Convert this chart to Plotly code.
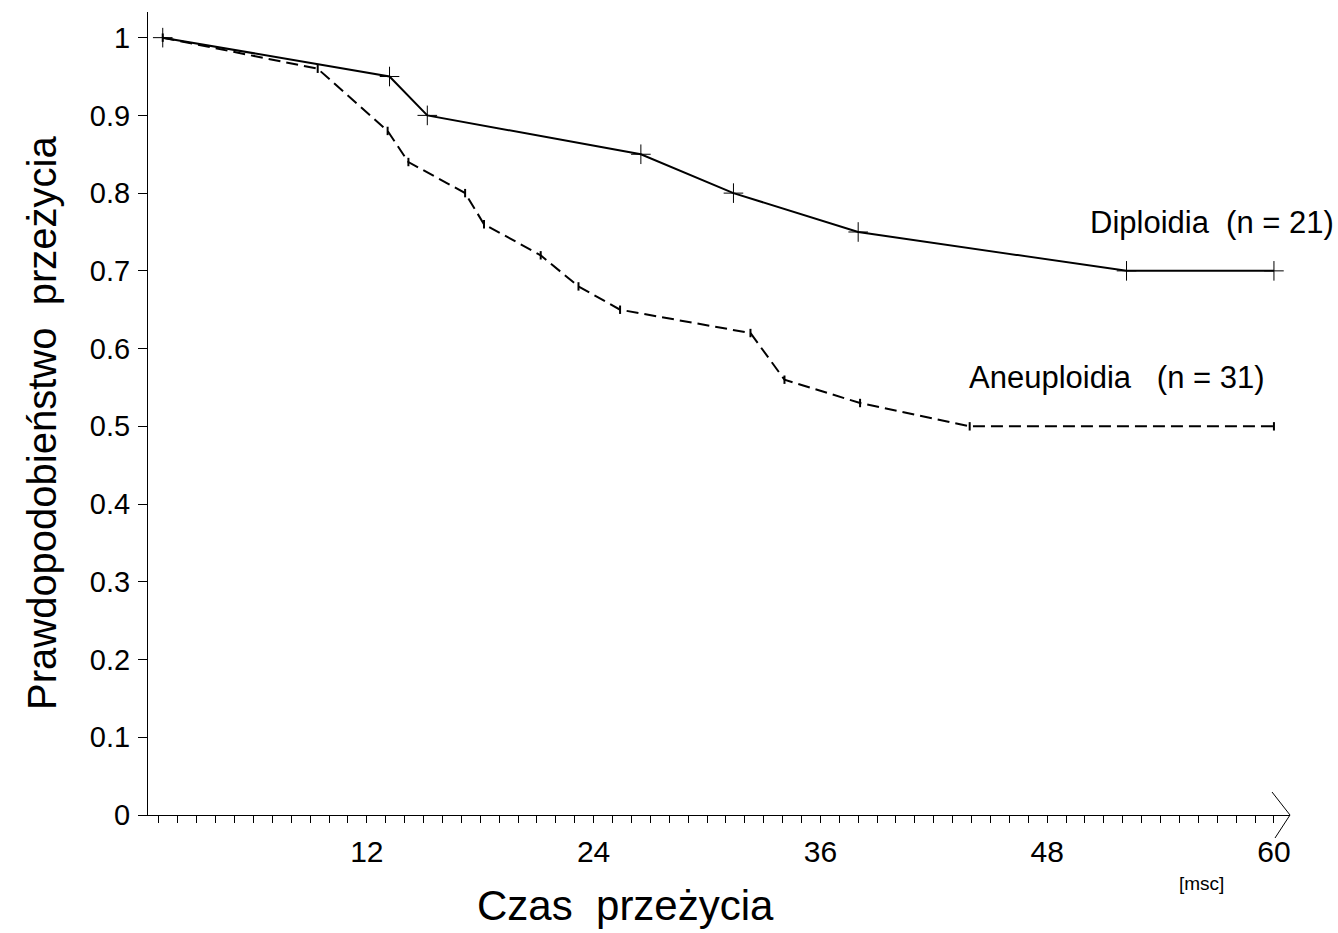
import plotly.graph_objects as go

# Data (months, survival probability)
dip_months = [1.2, 13.2, 15.2, 26.5, 31.4, 38.0, 52.2, 60.0]
dip_surv = [1.0, 0.95, 0.90, 0.85, 0.80, 0.75, 0.70, 0.70]

aneu_months = [1.2, 9.4, 13.1, 14.2, 17.2, 18.2, 21.2, 23.2, 25.4, 32.3, 34.1, 38.1, 43.9, 60.0]
aneu_surv = [1.0, 0.96, 0.88, 0.84, 0.80, 0.76, 0.72, 0.68, 0.65, 0.62, 0.56, 0.53, 0.50, 0.50]

x_ticks = [12, 24, 36, 48, 60]
y_ticks = [0, 0.1, 0.2, 0.3, 0.4, 0.5, 0.6, 0.7, 0.8, 0.9, 1]
y_tick_text = ["0", "0.1", "0.2", "0.3", "0.4", "0.5", "0.6", "0.7", "0.8", "0.9", "1"]

FONT = "Liberation Sans, Arial, Helvetica, sans-serif"

fig = go.Figure()
fig.add_trace(go.Scatter(
    x=dip_months, y=dip_surv, mode="lines+markers", name="Diploidia (n = 21)",
    line=dict(color="black", width=2),
    marker=dict(symbol="cross-thin", size=14, line=dict(color="black", width=1)),
    showlegend=False,
))
fig.add_trace(go.Scatter(
    x=aneu_months, y=aneu_surv, mode="lines+markers", name="Aneuploidia (n = 31)",
    line=dict(color="black", width=2, dash="12px,6px"),
    marker=dict(symbol="line-ns", size=6, line=dict(color="black", width=2)),
    showlegend=False,
))

fig.update_layout(
    width=1338, height=933,
    margin=dict(l=148, r=48, t=12, b=118),
    plot_bgcolor="white", paper_bgcolor="white",
    font=dict(family=FONT, color="black"),
)
fig.update_xaxes(
    range=[0.42, 60.85], showgrid=False, zeroline=False,
    showline=True, linecolor="black", linewidth=1,
    tickmode="array", tickvals=x_ticks, ticks="outside", ticklen=7, tickwidth=1, tickcolor="black",
    minor=dict(dtick=1, tick0=0, ticks="outside", ticklen=7, tickwidth=1, tickcolor="black"),
    tickfont=dict(size=30, family=FONT), ticklabelstandoff=3,
)
fig.update_yaxes(
    range=[0, 1.033], showgrid=False, zeroline=False,
    showline=True, linecolor="black", linewidth=1,
    tickmode="array", tickvals=y_ticks, ticktext=y_tick_text,
    ticks="outside", ticklen=9, tickwidth=1, tickcolor="black",
    tickfont=dict(size=29, family=FONT), ticklabelstandoff=2,
)

# axis arrow at the right end of the x axis (paper anchored so it is not clipped)
fig.add_shape(type="path", xref="paper", yref="paper", xsizemode="pixel", ysizemode="pixel",
              xanchor=1, yanchor=0,
              path="M -18 23 L 0 0 L -15 -23", line=dict(color="black", width=1))

# axis titles and labels
fig.add_annotation(text="Czas  przeżycia", xref="paper", yref="paper",
                   x=(625 - 148) / 1142, y=-(905 - 815) / 803, showarrow=False,
                   font=dict(size=42, family=FONT), xanchor="center", yanchor="middle")
fig.add_annotation(text="Prawdopodobieństwo  przeżycia", xref="paper", yref="paper",
                   x=-(148 - 42) / 1142, y=(815 - 423) / 803, showarrow=False, textangle=-90,
                   font=dict(size=40, family=FONT), xanchor="center", yanchor="middle")
fig.add_annotation(text="[msc]", xref="paper", yref="paper",
                   x=(1201 - 148) / 1142, y=-(884 - 815) / 803, showarrow=False,
                   font=dict(size=19, family=FONT), xanchor="center", yanchor="middle")
fig.add_annotation(text="Diploidia  (n = 21)", xref="paper", yref="paper",
                   x=(1336 - 148) / 1142, y=(815 - 222) / 803, showarrow=False,
                   font=dict(size=31, family=FONT), xanchor="right", yanchor="middle")
fig.add_annotation(text="Aneuploidia   (n = 31)", xref="paper", yref="paper",
                   x=(1267 - 148) / 1142, y=(815 - 377) / 803, showarrow=False,
                   font=dict(size=31, family=FONT), xanchor="right", yanchor="middle")

fig.write_html("out.html")
